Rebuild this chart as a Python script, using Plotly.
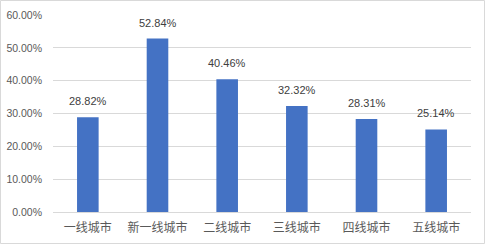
import plotly.graph_objects as go

categories = ["一线城市", "新一线城市", "二线城市", "三线城市", "四线城市", "五线城市"]
values = [28.82, 52.84, 40.46, 32.32, 28.31, 25.14]
tick_vals = [0, 10, 20, 30, 40, 50, 60]
tick_text = ["0.00%", "10.00%", "20.00%", "30.00%", "40.00%", "50.00%", "60.00%"]

W, H = 486, 245
ml, mr, mt, mb = 53, 15, 15, 33
pw, ph = W - ml - mr, H - mt - mb

fig = go.Figure(go.Bar(
    x=categories, y=values,
    marker=dict(color="#4472C4", line=dict(width=0)),
    width=0.31,
))

for c, v in zip(categories, values):
    fig.add_annotation(
        x=c, y=v, text=f"{v:.2f}%", showarrow=False,
        yanchor="bottom", yshift=8,
        font=dict(family="Liberation Sans, Arial", size=11, color="#404040"),
    )

fig.update_layout(
    width=W, height=H,
    margin=dict(l=ml, r=mr, t=mt, b=mb),
    paper_bgcolor="white", plot_bgcolor="white",
    showlegend=False,
    font=dict(family="Liberation Sans, Noto Sans CJK SC", color="#595959"),
    xaxis=dict(
        showgrid=False, showline=True, linecolor="#D9D9D9", linewidth=1,
        ticks="", tickfont=dict(family="Noto Sans CJK SC", size=12, color="#595959"),
        ticklabelstandoff=5, automargin=False,
    ),
    yaxis=dict(
        range=[0, 60], tickvals=tick_vals, ticktext=tick_text,
        showgrid=True, gridcolor="#D9D9D9", gridwidth=1,
        zeroline=False, showline=False, ticks="",
        tickfont=dict(family="Liberation Sans, Arial", size=10.5, color="#595959"),
        ticklabelstandoff=10, automargin=False,
    ),
    shapes=[dict(
        type="rect", xref="paper", yref="paper",
        x0=(-ml + 0.5) / pw, x1=(pw + mr - 1.5) / pw,
        y0=(-mb + 1.5) / ph, y1=(ph + mt - 0.5) / ph,
        line=dict(color="#D9D9D9", width=1), fillcolor="rgba(0,0,0,0)",
        layer="below",
    )],
)

fig.write_html("out.html")
